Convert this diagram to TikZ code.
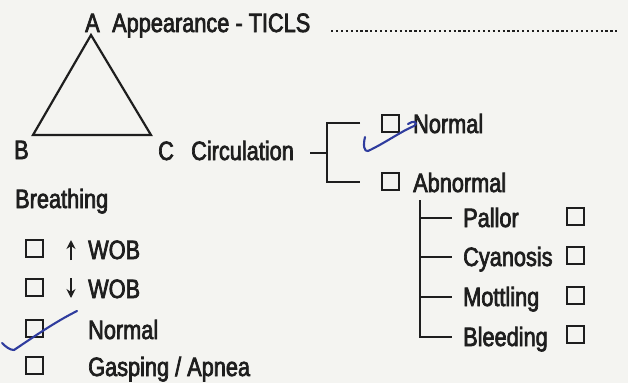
\documentclass[tikz,border=0pt]{standalone}
\usepackage{fontspec}
\setmainfont[FakeStretch=0.82,FakeBold=2.6]{Liberation Sans}
\usetikzlibrary{arrows.meta}
\definecolor{paper}{HTML}{F4F4F1}
\definecolor{ink}{HTML}{1E1E1E}
\definecolor{pen}{HTML}{2F3C9E}
\tikzset{
  lbl/.style={inner sep=0pt, anchor=base west, font=\fontsize{26.5}{28}\selectfont, text=ink},
  cbox/.style={draw=ink, line width=1.8pt, minimum width=17pt, minimum height=17pt, inner sep=0pt, anchor=south west},
  wire/.style={draw=ink, line width=2.2pt},
  tick/.style={draw=pen, line width=2.1pt, line cap=round, line join=round},
  wobarrow/.style={draw=ink, line width=2.6pt, -{Stealth[length=9pt,width=9pt]}}
}
\begin{document}
\begin{tikzpicture}[x=1pt,y=-1pt]
\fill[paper] (0,0) rectangle (628,383);
\useasboundingbox (0,0) rectangle (628,383);
% triangle
\node[lbl] (A) at (85,32) {A};
\node[lbl] (B) at (14,159) {B};
\node[lbl] (C) at (158,160) {C};
\coordinate (tA) at (91,35);
\coordinate (tB) at (33,135);
\coordinate (tC) at (151,135);
\draw[wire, line join=miter] (tA) -- (tB) -- (tC) -- cycle;
% appearance
\node[lbl] (app) at (112,32) {Appearance - TICLS};
\coordinate (dotS) at (331,31);
\coordinate (dotE) at (620,31);
\draw[draw=ink, line width=2.8pt, dash pattern=on 2.2pt off 2.7pt] (dotS) -- (dotE);
% circulation
\node[lbl] (circ) at (191,160) {Circulation};
\coordinate (stub) at (310,153);
\coordinate (brM) at (327,153);
\coordinate (brT) at (327,123);
\coordinate (brB) at (327,182);
\coordinate (brTE) at (360,123);
\coordinate (brBE) at (360,182);
\draw[wire] (stub) -- (brM);
\draw[wire] (brTE) -- (brT) -- (brB) -- (brBE);
\node[cbox] (bxN) at (381,133) {};
\node[lbl] (cN) at (413,133) {Normal};
\node[cbox] (bxAb) at (381,191) {};
\node[lbl] (cAb) at (413,192) {Abnormal};
% abnormal tree
\coordinate (trT) at (420,200);
\coordinate (tr1) at (420,218);
\coordinate (tr2) at (420,257);
\coordinate (tr3) at (420,297);
\coordinate (tr4) at (420,337);
\coordinate (tr1e) at (452,218);
\coordinate (tr2e) at (452,257);
\coordinate (tr3e) at (452,297);
\coordinate (tr4e) at (452,337);
\draw[wire] (trT) -- (tr4) -- (tr4e);
\draw[wire] (tr1) -- (tr1e);
\draw[wire] (tr2) -- (tr2e);
\draw[wire] (tr3) -- (tr3e);
\node[lbl] (pal) at (463,227) {Pallor};
\node[lbl] (cya) at (463,266) {Cyanosis};
\node[lbl] (mot) at (463,306) {Mottling};
\node[lbl] (ble) at (463,346) {Bleeding};
\node[cbox] (bxP) at (566,226) {};
\node[cbox] (bxCy) at (566,265) {};
\node[cbox] (bxM) at (566,305) {};
\node[cbox] (bxBl) at (566,344) {};
% breathing
\node[lbl] (br) at (15,208) {Breathing};
\node[cbox] (b1) at (25,258) {};
\node[cbox] (b2) at (25,297) {};
\node[cbox] (b3) at (25,338) {};
\node[cbox] (b4) at (25,375) {};
\coordinate (upS) at (71,260);
\coordinate (upE) at (71,240);
\coordinate (dnS) at (71,278);
\coordinate (dnE) at (71,298);
\draw[wobarrow] (upS) -- (upE);
\draw[wobarrow] (dnS) -- (dnE);
\node[lbl] (w1) at (88,259) {WOB};
\node[lbl] (w2) at (88,298) {WOB};
\node[lbl] (w3) at (88,339) {Normal};
\node[lbl] (w4) at (88,376) {Gasping / Apnea};
% pen ticks
\coordinate (k1a) at (365,137);
\coordinate (k1b) at (368,151);
\coordinate (k1c) at (414,126);
\draw[tick] (k1a) .. controls (363,145) and (364,152) .. (k1b)
  .. controls (385,143) and (400,132) .. (k1c)
  .. controls (419,122) and (413,120) .. (408,124);
\coordinate (k2a) at (2,343);
\coordinate (k2b) at (14,350);
\coordinate (k2c) at (77,311);
\draw[tick] (k2a) .. controls (6,347) and (10,350) .. (k2b)
  .. controls (35,336) and (55,322) .. (k2c);
\end{tikzpicture}
\end{document}
